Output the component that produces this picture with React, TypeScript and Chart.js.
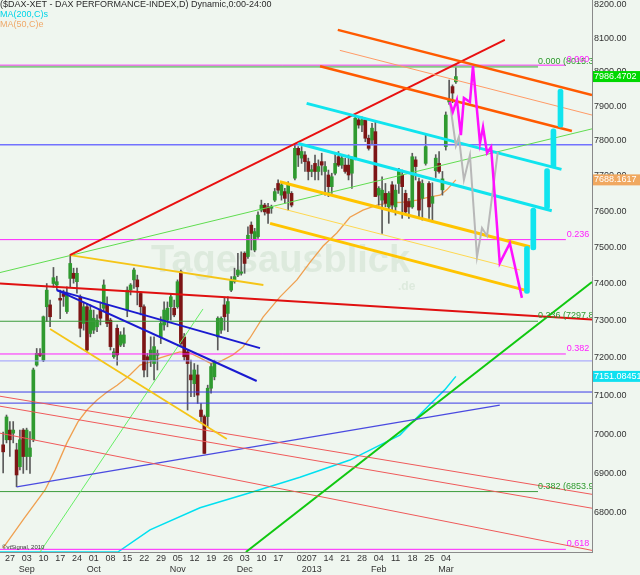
import React, { useEffect, useRef } from "react";
import { Chart, registerables } from "chart.js";

Chart.register(...registerables);

const FONT = '"Liberation Sans", Arial, sans-serif';
const BG = "#eff6ef";
const UP = "#2f9a2f";
const DOWN = "#7d1515";
const WICK = "#5a5a5a";

// x = trading-day index (0 = Mon 27 Aug 2012), first candle = Fri 24 Aug 2012
const firstDay = -1;
const X_MIN = -1.94;
const X_MAX = 174.6;
const Y_MIN = 6703;
const Y_MAX = 8215;

const opens = [
  6973, 6986, 7011, 7003, 6960, 6917, 7011, 6943, 6943, 6986,
  7181, 7212, 7194, 7337, 7342, 7400, 7396, 7360, 7372, 7324,
  7414, 7428, 7405, 7364, 7292, 7337, 7265, 7274, 7283, 7328,
  7333, 7342, 7301, 7203, 7279, 7234, 7239, 7328, 7382, 7410,
  7410, 7373, 7337, 7203, 7194, 7185, 7207, 7256, 7288, 7301,
  7337, 7333, 7337, 7432, 7256, 7216, 7155, 7132, 7155, 7063,
  7046, 7046, 7120, 7150, 7256, 7274, 7342, 7319, 7382, 7405,
  7423, 7428, 7483, 7474, 7561, 7492, 7529, 7603, 7617, 7612,
  7608, 7631, 7678, 7645, 7655, 7650, 7650, 7693, 7778, 7750,
  7759, 7740, 7712, 7735, 7712, 7740, 7712, 7702, 7669, 7707,
  7754, 7730, 7730, 7730, 7707, 7750, 7860, 7845, 7860, 7807,
  7802, 7826, 7645, 7631, 7650, 7612, 7674, 7612, 7678, 7702,
  7650, 7627, 7612, 7745, 7683, 7636, 7735, 7678, 7622, 7714,
  7735, 7660, 7783, 7912, 7957, 7971,
];
const highs = [
  7006, 7050, 7033, 7033, 6977, 7011, 7015, 7016, 7007, 7173,
  7225, 7225, 7312, 7400, 7355, 7444, 7420, 7382, 7382, 7391,
  7478, 7442, 7442, 7369, 7347, 7346, 7342, 7328, 7315, 7350,
  7410, 7364, 7306, 7225, 7288, 7270, 7280, 7391, 7400, 7442,
  7423, 7378, 7342, 7212, 7256, 7256, 7221, 7310, 7350, 7350,
  7373, 7355, 7410, 7437, 7265, 7221, 7194, 7185, 7181, 7080,
  7050, 7128, 7185, 7194, 7310, 7310, 7360, 7364, 7419, 7442,
  7483, 7487, 7487, 7556, 7570, 7552, 7598, 7631, 7622, 7622,
  7617, 7664, 7688, 7678, 7664, 7683, 7655, 7792, 7783, 7783,
  7769, 7750, 7730, 7759, 7745, 7764, 7740, 7716, 7707, 7764,
  7769, 7759, 7750, 7759, 7754, 7874, 7869, 7869, 7865, 7816,
  7850, 7855, 7669, 7697, 7678, 7655, 7683, 7674, 7721, 7716,
  7659, 7636, 7764, 7754, 7693, 7688, 7816, 7683, 7680, 7760,
  7769, 7712, 7883, 7976, 7962, 8020,
];
const lows = [
  6901, 6978, 6943, 6978, 6866, 6909, 6900, 6909, 6900, 6981,
  7178, 7203, 7190, 7297, 7283, 7390, 7383, 7305, 7338, 7319,
  7391, 7401, 7374, 7256, 7274, 7216, 7256, 7265, 7270, 7288,
  7324, 7283, 7221, 7199, 7181, 7230, 7230, 7310, 7369, 7387,
  7342, 7315, 7150, 7150, 7177, 7142, 7168, 7238, 7274, 7283,
  7301, 7310, 7333, 7230, 7194, 7063, 7098, 7098, 7080, 7033,
  6951, 7020, 7107, 7142, 7221, 7265, 7274, 7270, 7378, 7401,
  7419, 7423, 7428, 7469, 7492, 7487, 7524, 7598, 7589, 7566,
  7594, 7627, 7650, 7631, 7622, 7603, 7612, 7688, 7726, 7735,
  7712, 7688, 7697, 7688, 7688, 7702, 7645, 7641, 7650, 7702,
  7726, 7721, 7707, 7688, 7664, 7745, 7836, 7826, 7797, 7773,
  7788, 7641, 7617, 7538, 7612, 7566, 7603, 7589, 7650, 7580,
  7594, 7580, 7608, 7688, 7584, 7575, 7730, 7580, 7570, 7695,
  7707, 7645, 7773, 7905, 7910, 7966,
];
const closes = [
  6955, 7045, 6986, 7011, 6896, 6986, 6943, 7011, 6965, 7168,
  7212, 7207, 7310, 7382, 7310, 7416, 7405, 7355, 7365, 7373,
  7455, 7414, 7428, 7279, 7337, 7221, 7328, 7306, 7301, 7306,
  7396, 7292, 7230, 7216, 7208, 7261, 7261, 7382, 7396, 7437,
  7391, 7337, 7168, 7194, 7221, 7230, 7212, 7292, 7328, 7333,
  7364, 7315, 7405, 7238, 7203, 7185, 7142, 7168, 7102, 7046,
  6951, 7120, 7177, 7190, 7306, 7306, 7310, 7351, 7410, 7419,
  7437, 7432, 7455, 7533, 7538, 7543, 7589, 7617, 7598, 7594,
  7612, 7655, 7659, 7674, 7636, 7674, 7617, 7778, 7759, 7769,
  7740, 7712, 7717, 7712, 7726, 7730, 7726, 7669, 7697, 7735,
  7730, 7750, 7712, 7702, 7750, 7865, 7845, 7860, 7807, 7778,
  7836, 7641, 7664, 7659, 7622, 7650, 7617, 7659, 7712, 7669,
  7598, 7612, 7754, 7726, 7603, 7678, 7783, 7612, 7641, 7750,
  7712, 7691, 7874, 7920, 7938, 7986.4702,
];

// x-axis ticks (Mondays / first trading day)
const tickIndex = [0, 5, 10, 15, 20, 25, 30, 35, 40, 45, 50, 55, 60, 65, 70, 75, 80, 87, 90, 95, 100, 105, 110, 115, 120, 125, 130];
const tickDay = ["27", "03", "10", "17", "24", "01", "08", "15", "22", "29", "05", "12", "19", "26", "03", "10", "17", "02", "07", "14", "21", "28", "04", "11", "18", "25", "04"];
const tickMonth = ["", "Sep", "", "", "", "Oct", "", "", "", "", "Nov", "", "", "", "Dec", "", "", "", "2013", "", "", "", "Feb", "", "", "", "Mar"];
const yTicks = [6800, 6900, 7000, 7100, 7200, 7300, 7400, 7500, 7600, 7700, 7800, 7900, 8000, 8100, 8200];

// moving averages (read at sample points)
const ma50Idx = [-1, 5.2, 11.5, 14.5, 18, 21.3, 24, 27, 30, 33, 36.8, 39.8, 42.8, 45.8, 48.7, 51.7, 54.7, 57.7, 60.7, 62.8, 64.5, 67.5, 70.5, 72.6, 76.5, 81.5, 86.6, 90.5, 94.4, 98.5, 102.4, 106.3, 110.5, 114.3, 118.2, 122.4, 126.3, 129.3, 131.3, 134];
const ma50Val = [6713, 6786, 6858, 6909, 6978, 7032, 7063, 7089, 7110, 7128, 7155, 7181, 7189, 7200, 7208, 7216, 7213, 7200, 7186, 7186, 7194, 7208, 7229, 7253, 7309, 7363, 7410, 7458, 7503, 7539, 7583, 7603, 7617, 7623, 7625, 7631, 7640, 7645, 7660, 7688.1617];
const ma200Idx = [-2, 33.2, 42.8, 57.7, 72.6, 87.5, 102.4, 117.3, 126.3, 130.6, 134];
const ma200Val = [6703, 6703, 6758, 6813, 6851, 6890, 6934, 6998, 7078, 7115, 7151.08451];

// horizontal levels
const fibGreenNames = ["0.000", "0.236", "0.382"];
const fibGreenLevels = [8015.3031, 7297.8612, 6853.9145];
const fibMagentaNames = ["0.000", "0.236", "0.382", "0.618"];
const fibMagentaLevels = [8020.08, 7520.71, 7210.4, 6709.6];
const blueLevels = [7788, 7192, 7110, 7081];

// trend lines [index, value]
const redRise = [[18.9, 7478], [148.6, 8095]];
const redFall = [[X_MIN, 7400], [X_MAX, 7302.5]];
const greenLong = [[X_MIN, 7430], [X_MAX, 7834]];
const greenShort = [[10, 6703], [58.6, 7331]];
const greenBright = [[71.4, 6703], [X_MAX, 7404]];
const goldSepUpper = [[18.9, 7478], [76.6, 7396]];
const goldSepLower = [[13, 7277], [65.7, 6988]];
const blueA = [[15.0, 7382], [75.6, 7226]];
const blueB = [[15.0, 7382], [74.6, 7139]];
const blueRise = [[3.04, 6866], [147.1, 7076]];
const salmonA = [[X_MIN, 7099], [X_MAX, 6847]];
const salmonB = [[X_MIN, 7073], [X_MAX, 6812]];
const salmonC = [[X_MIN, 7003], [X_MAX, 6707]];
const orangeTop = [[98.8, 8125], [X_MAX, 7932]];
const orangeThin = [[99.4, 8064], [X_MAX, 7874]];
const orangeLow = [[93.5, 8017], [168.6, 7828]];
const cyanUpper = [[89.5, 7908], [165.5, 7718]];
const cyanLower = [[87, 7792], [162.6, 7601]];
const goldUpper = [[81.5, 7683], [156.1, 7501]];
const goldThin = [[80.1, 7612], [153.1, 7437]];
const goldLower = [[78.6, 7566], [154.6, 7382]];

// projections
const magentaPath = [
  [132.2, 7912], [133.1, 7883], [134.3, 7918], [135.5, 7816], [136.4, 7924], [138.2, 7912],
  [139.1, 8017], [141.2, 7793], [142.1, 7839], [143.3, 7765], [144.5, 7782], [147.1, 7456],
  [150.1, 7511], [153.7, 7361],
];
const grayPath = [
  [132.2, 7912], [134, 7785], [134.9, 7811], [136.4, 7688], [138.2, 7759], [140.3, 7473],
  [141.8, 7553], [143.3, 7531], [146.5, 7767],
];
const projIdx = [155.2, 157.1, 161.2, 163.1, 165.2];
const projLow = [7373, 7492, 7606, 7722, 7839];
const projHigh = [7502, 7609, 7720, 7834, 7950];

const GREEN_LABEL_X = 158.5;
const MAG_END_X = 166.8;

const seg = (pts: number[][], color: string, width: number, order: number) => ({
  type: "line",
  data: pts.map(([x, y]) => ({ x, y })),
  borderColor: color,
  borderWidth: width,
  pointRadius: 0,
  pointHoverRadius: 0,
  fill: false,
  tension: 0,
  order,
});

export default function App() {
  const ref = useRef<HTMLCanvasElement>(null);

  useEffect(() => {
    const canvas = ref.current;
    if (!canvas) return;

    const candleIdx = opens.map((_, i) => firstDay + i);
    const wickData = candleIdx.map((x, i) => ({ x, y: [lows[i], highs[i]] }));
    const bodyData = candleIdx.map((x, i) => ({
      x,
      y: [Math.min(opens[i], closes[i]), Math.max(opens[i], closes[i])],
    }));
    const bodyColors = candleIdx.map((_, i) => (closes[i] >= opens[i] ? UP : DOWN));

    const datasets: any[] = [];

    // moving averages (bottom)
    datasets.push(seg(ma200Idx.map((x, i) => [x, ma200Val[i]]), "#00e0f0", 1.5, 30));
    datasets.push(seg(ma50Idx.map((x, i) => [x, ma50Val[i]]), "#f0a050", 1.3, 30));

    // candles
    datasets.push({
      type: "bar",
      data: wickData,
      backgroundColor: WICK,
      barThickness: 1,
      grouped: false,
      order: 20,
    });
    datasets.push({
      type: "bar",
      data: bodyData,
      backgroundColor: bodyColors,
      barThickness: 3,
      minBarLength: 1,
      grouped: false,
      order: 19,
    });

    // horizontal levels
    fibMagentaLevels.forEach((v) => datasets.push(seg([[X_MIN, v], [MAG_END_X, v]], "#ff20ff", 1, 12)));
    fibGreenLevels.forEach((v, i) =>
      datasets.push(seg([[X_MIN, v], [GREEN_LABEL_X, v]], i === 0 ? "#86c886" : "#3c9c3c", i === 0 ? 2 : 1, 11))
    );
    blueLevels.forEach((v, i) =>
      datasets.push(seg([[X_MIN, v], [X_MAX, v]], i === 0 ? "#7272ff" : i === 1 ? "#9a9aff" : "#3a3ae8", i === 0 ? 1.5 : 1, 11))
    );

    // trend lines
    datasets.push(seg(salmonA, "#f05a5a", 1, 8));
    datasets.push(seg(salmonB, "#f05a5a", 1, 8));
    datasets.push(seg(salmonC, "#f05a5a", 1, 8));
    datasets.push(seg(blueRise, "#4a4ae0", 1.3, 8));
    datasets.push(seg(greenLong, "#60dd50", 1, 8));
    datasets.push(seg(greenShort, "#66ee66", 1, 8));
    datasets.push(seg(greenBright, "#10c810", 2, 8));
    datasets.push(seg(redFall, "#e01010", 2, 7));
    datasets.push(seg(redRise, "#e81010", 2, 7));
    datasets.push(seg(goldSepUpper, "#f5c518", 1.8, 7));
    datasets.push(seg(goldSepLower, "#f5c518", 1.8, 7));
    datasets.push(seg(blueA, "#1a1ad0", 2, 7));
    datasets.push(seg(blueB, "#1a1ad0", 2, 7));
    datasets.push(seg(orangeThin, "#ff9a66", 1, 6));
    datasets.push(seg(orangeTop, "#ff5a00", 2.5, 6));
    datasets.push(seg(orangeLow, "#ff5a00", 2.5, 6));
    datasets.push(seg(goldThin, "#ffd850", 1, 6));
    datasets.push(seg(goldUpper, "#ffc400", 3, 6));
    datasets.push(seg(goldLower, "#ffc400", 3, 6));
    datasets.push(seg(cyanUpper, "#10e4ee", 3, 6));
    datasets.push(seg(cyanLower, "#10e4ee", 3, 6));

    // projections
    datasets.push(seg(grayPath, "#b8b8b8", 2, 3));
    datasets.push(seg(magentaPath, "#ff10ff", 2.5, 2));
    datasets.push({
      type: "bar",
      data: projIdx.map((x, i) => ({ x, y: [projLow[i], projHigh[i]] })),
      backgroundColor: "#10e4ee",
      barThickness: 5,
      borderRadius: 3,
      borderSkipped: false,
      grouped: false,
      order: 1,
    });

    const overlay = {
      id: "overlay",
      beforeDraw(chart: any) {
        const c = chart.ctx;
        c.save();
        c.fillStyle = BG;
        c.fillRect(0, 0, chart.width, chart.height);
        c.restore();
      },
      beforeDatasetsDraw(chart: any) {
        const c = chart.ctx;
        const a = chart.chartArea;
        c.save();
        c.beginPath();
        c.rect(a.left, a.top, a.right - a.left, a.bottom - a.top);
        c.clip();
        c.fillStyle = "rgba(190,212,190,0.35)";
        c.font = `bold 38px ${FONT}`;
        c.textBaseline = "alphabetic";
        c.fillText("Tagesausblick", 151, 272);
        c.font = `bold 12px ${FONT}`;
        c.fillText(".de", 398, 290);
        c.restore();
      },
      afterDatasetsDraw(chart: any) {
        const c = chart.ctx;
        const a = chart.chartArea;
        const xs = chart.scales.x;
        const ys = chart.scales.y;
        c.save();
        c.beginPath();
        c.rect(a.left, a.top, a.right - a.left, a.bottom - a.top);
        c.clip();
        c.font = `9px ${FONT}`;
        c.textBaseline = "bottom";
        c.textAlign = "left";
        fibGreenLevels.forEach((v, i) => {
          c.fillStyle = "#2f9a2f";
          c.fillText(`${fibGreenNames[i]} (${v.toFixed(4)})`, xs.getPixelForValue(GREEN_LABEL_X), ys.getPixelForValue(v) - 1);
        });
        fibMagentaLevels.forEach((v, i) => {
          c.fillStyle = "#ff20ff";
          c.fillText(`${fibMagentaNames[i]} (${v.toFixed(2)})`, xs.getPixelForValue(MAG_END_X) + 1, ys.getPixelForValue(v) - 1);
        });
        // header / legend
        c.textBaseline = "middle";
        c.fillStyle = "#2a2a2a";
        c.fillText("($DAX-XET - DAX PERFORMANCE-INDEX,D) Dynamic,0:00-24:00", 0, 5);
        c.fillStyle = "#00d4e8";
        c.fillText("MA(200,C)s", 0, 15);
        c.fillStyle = "#f0a868";
        c.fillText("MA(50,C)e", 0, 25);
        c.fillStyle = "#333";
        c.font = `6px ${FONT}`;
        c.fillText("©vtSignal, 2010", 2, 547);
        c.restore();
      },
      afterDraw(chart: any) {
        const c = chart.ctx;
        const ys = chart.scales.y;
        const boxes = [
          { v: closes[closes.length - 1], t: closes[closes.length - 1].toFixed(4), col: "#00d800" },
          { v: ma50Val[ma50Val.length - 1], t: ma50Val[ma50Val.length - 1].toFixed(4), col: "#f0a860" },
          { v: ma200Val[ma200Val.length - 1], t: ma200Val[ma200Val.length - 1].toFixed(5), col: "#10e0f0" },
        ];
        c.save();
        c.font = `9px ${FONT}`;
        c.textBaseline = "middle";
        c.textAlign = "left";
        boxes.forEach((b) => {
          const y = ys.getPixelForValue(b.v);
          c.fillStyle = b.col;
          c.fillRect(593, y - 5.5, 47, 11);
          c.fillStyle = "#ffffff";
          c.fillText(b.t, 594, y);
        });
        c.restore();
      },
    };

    const chart = new Chart(canvas, {
      type: "bar",
      data: { datasets },
      options: {
        responsive: false,
        devicePixelRatio: 1,
        animation: false,
        events: [],
        layout: { padding: 0 },
        plugins: { legend: { display: false }, tooltip: { enabled: false }, title: { display: false } },
        scales: {
          x: {
            type: "linear",
            position: "bottom",
            min: X_MIN,
            max: X_MAX,
            offset: false,
            afterBuildTicks: (s: any) => {
              s.ticks = tickIndex.map((v) => ({ value: v }));
            },
            afterFit: (s: any) => {
              s.height = 23;
              s.paddingLeft = 0;
              s.paddingRight = 0;
            },
            ticks: {
              autoSkip: false,
              maxRotation: 0,
              minRotation: 0,
              padding: 1,
              labelOffset: 3.5,
              color: "#333",
              font: { size: 9, family: FONT },
              callback: (v: any) => {
                const i = tickIndex.indexOf(Number(v));
                return i < 0 ? "" : [tickDay[i], tickMonth[i]];
              },
            },
            grid: { display: false, drawTicks: false, tickLength: 0, offset: false },
            border: { display: true, color: "#8a8a8a", width: 1 },
          },
          y: {
            type: "logarithmic",
            position: "right",
            min: Y_MIN,
            max: Y_MAX,
            beginAtZero: false,
            afterBuildTicks: (s: any) => {
              s.ticks = yTicks.map((v) => ({ value: v }));
            },
            afterFit: (s: any) => {
              s.width = 48;
              s.paddingTop = 0;
              s.paddingBottom = 0;
            },
            ticks: {
              padding: 2,
              color: "#333",
              font: { size: 9, family: FONT },
              callback: (v: any) => Number(v).toFixed(2),
            },
            grid: { display: false, drawTicks: false, tickLength: 0 },
            border: { display: true, color: "#8a8a8a", width: 1 },
          },
        },
      } as any,
      plugins: [overlay],
    } as any);

    return () => chart.destroy();
  }, []);

  return (
    <div style={{ position: "fixed", left: 0, top: 0, width: 640, height: 575, background: BG }}>
      <canvas ref={ref} width={640} height={575} style={{ display: "block", width: 640, height: 575 }} />
    </div>
  );
}
